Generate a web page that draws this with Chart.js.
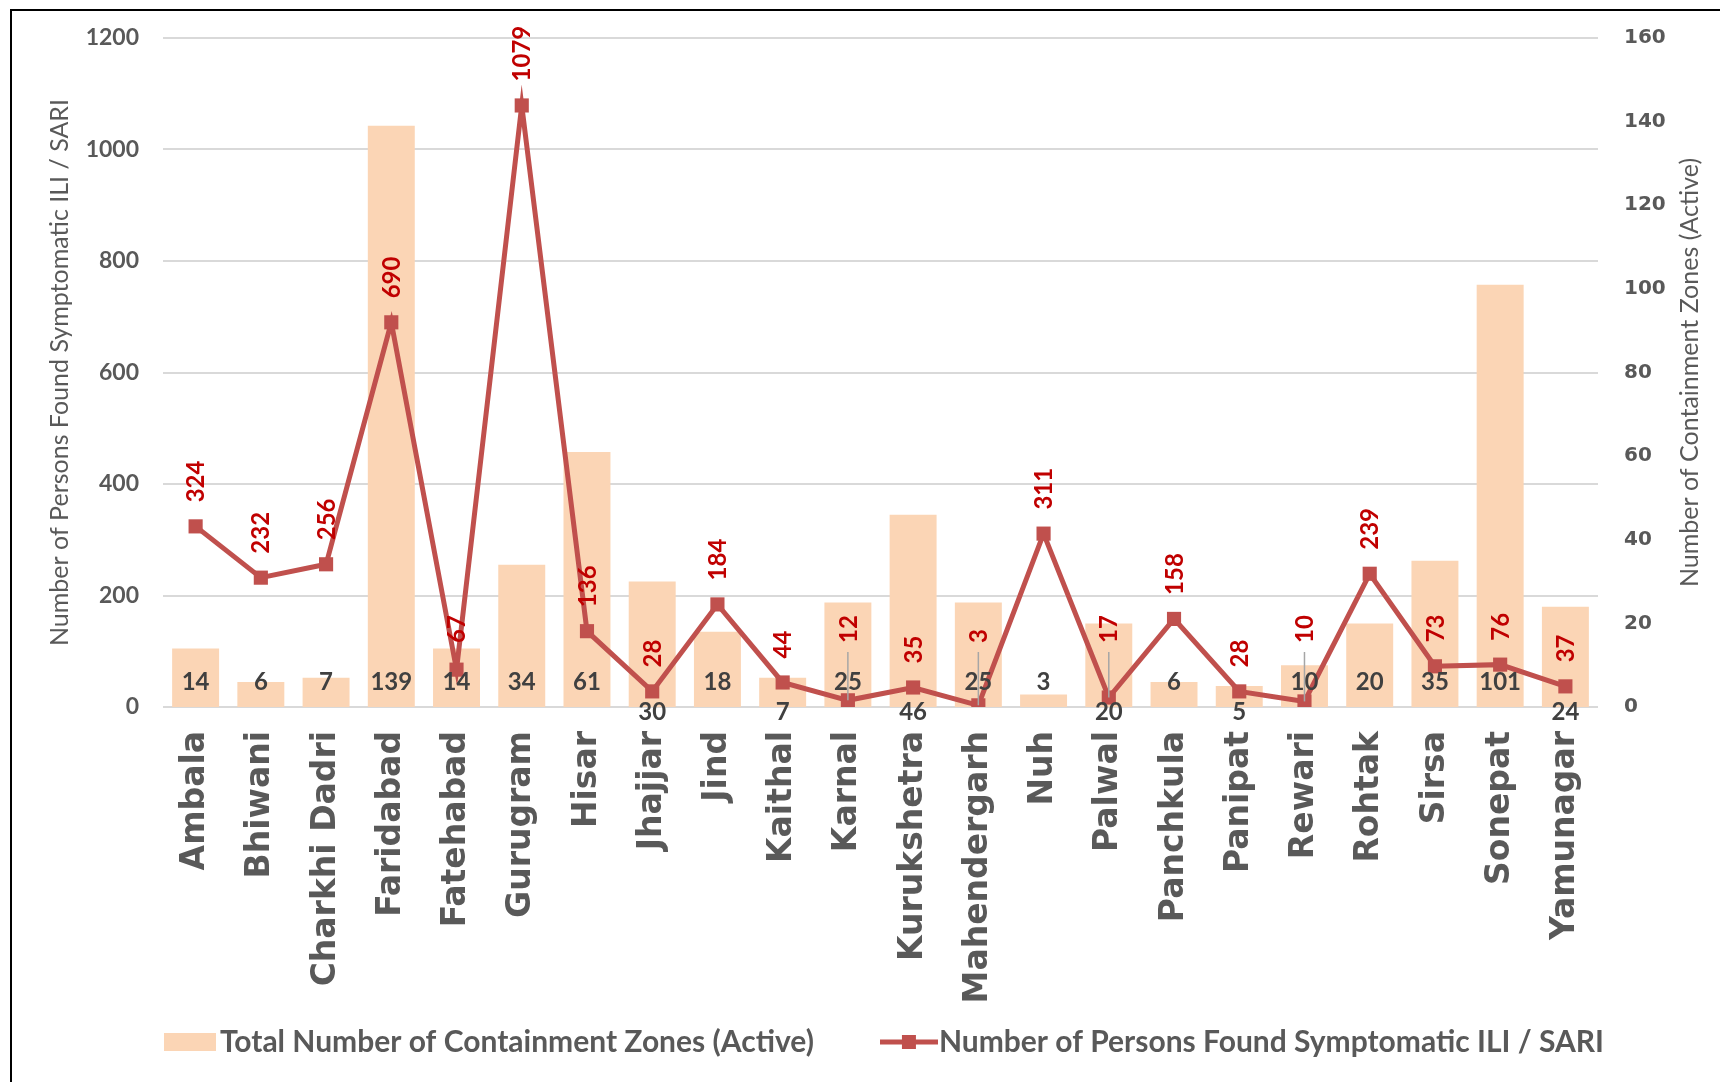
<!DOCTYPE html>
<html>
<head>
<meta charset="utf-8">
<title>Haryana districts: containment zones and ILI / SARI cases</title>
<script src="https://cdn.jsdelivr.net/npm/chart.js@4.4.1/dist/chart.umd.min.js"></script>
<style>
  html, body { margin: 0; padding: 0; background: #fff; overflow: hidden; }
  #wrap { position: relative; width: 1720px; height: 1082px; }
  #frame { position: absolute; left: 10px; top: 9px; width: 1730px; height: 1090px;
           border-left: 2px solid #000; border-top: 2px solid #000; pointer-events: none; }
  canvas { display: block; }
</style>
</head>
<body>
<div id="wrap">
  <canvas id="chart" width="1720" height="1082"></canvas>
  <div id="frame"></div>
</div>
<script>
// District-wise figures
const districts = ['Ambala', 'Bhiwani', 'Charkhi Dadri', 'Faridabad', 'Fatehabad', 'Gurugram', 'Hisar',
  'Jhajjar', 'Jind', 'Kaithal', 'Karnal', 'Kurukshetra', 'Mahendergarh', 'Nuh', 'Palwal', 'Panchkula',
  'Panipat', 'Rewari', 'Rohtak', 'Sirsa', 'Sonepat', 'Yamunagar'];
const containmentZones = [14, 6, 7, 139, 14, 34, 61, 30, 18, 7, 25, 46, 25, 3, 20, 6, 5, 10, 20, 35, 101, 24];
const symptomaticPersons = [324, 232, 256, 690, 67, 1079, 136, 28, 184, 44, 12, 35, 3, 311, 17, 158, 28, 10, 239, 73, 76, 37];

const zonesLabel = 'Total Number of Containment Zones (Active)';
const personsLabel = 'Number of Persons Found Symptomatic ILI / SARI';
const zonesAxisTitle = 'Number of Containment Zones (Active)';

const BAR_COLOR = '#FBD5B5';
const LINE_COLOR = '#C0504D';
const TEXT_GREY = '#595959';

function swatch(w, h, paint) {
  const c = document.createElement('canvas');
  c.width = w; c.height = h;
  paint(c.getContext('2d'), w, h);
  return c;
}
const barSwatch = swatch(52, 18, (g, w, h) => { g.fillStyle = BAR_COLOR; g.fillRect(0, 0, w, h); });
const lineSwatch = swatch(58, 16, (g, w, h) => {
  g.strokeStyle = LINE_COLOR; g.lineWidth = 5;
  g.beginPath(); g.moveTo(0, h / 2); g.lineTo(w, h / 2); g.stroke();
  g.fillStyle = LINE_COLOR; g.fillRect(w / 2 - 7, h / 2 - 7, 14, 14);
});

// Value labels: zone counts near the bar base, person counts rotated above the markers
const valueLabels = {
  id: 'valueLabels',
  afterLayout(chart) {
    // let the long rotated district names run past the axis box instead of being clipped
    chart.scales.x.bottom = chart.height;
  },
  afterDatasetsDraw(chart) {
    const ctx = chart.ctx;
    const barMeta = chart.getDatasetMeta(0);
    const lineMeta = chart.getDatasetMeta(1);
    const base = chart.scales.yZones.getPixelForValue(0);
    const barFont = 24, lineFont = 24;
    const barCap = barFont * 0.72, lineCap = lineFont * 0.72;
    const insideCenter = base - 26;
    const belowCenter = base + 4;
    const textTop = insideCenter - barCap / 2;
    const textBottom = insideCenter + barCap / 2;
    ctx.save();
    districts.forEach((d, i) => {
      const bar = barMeta.data[i];
      const pt = lineMeta.data[i];
      const py = pt.y;
      const below = py > textTop - 2 && py < textBottom + 10;
      const cy = below ? belowCenter : insideCenter;
      ctx.font = `bold ${barFont}px Lato`;
      ctx.fillStyle = '#404040';
      ctx.textAlign = 'center';
      ctx.textBaseline = 'alphabetic';
      ctx.fillText(String(containmentZones[i]), bar.x, cy + barCap / 2);

      const lifted = py > textTop - 5 && (!below || py > textBottom + 5);
      let start = py - 24;
      if (lifted) start = Math.min(start, base - 64);
      if (lifted && py - start > 30) {
        ctx.strokeStyle = '#A6A6A6';
        ctx.lineWidth = 1.5;
        ctx.beginPath();
        ctx.moveTo(pt.x, start + 9);
        ctx.lineTo(pt.x, py);
        ctx.stroke();
      }
      ctx.save();
      ctx.translate(pt.x + lineCap / 2, start);
      ctx.rotate(-Math.PI / 2);
      ctx.font = `bold ${lineFont}px Lato`;
      ctx.fillStyle = '#C00000';
      ctx.textAlign = 'left';
      ctx.textBaseline = 'alphabetic';
      ctx.fillText(String(symptomaticPersons[i]), 0, 0);
      ctx.restore();
    });
    ctx.restore();
  },
  afterDraw(chart) {
    // right-hand axis title, reading bottom to top
    const ctx = chart.ctx;
    const area = chart.chartArea;
    ctx.save();
    ctx.translate(1690, (area.top + area.bottom) / 2);
    ctx.rotate(-Math.PI / 2);
    ctx.font = '25px Lato';
    ctx.fillStyle = TEXT_GREY;
    ctx.textAlign = 'center';
    ctx.textBaseline = 'middle';
    ctx.fillText(zonesAxisTitle, 0, 0);
    ctx.restore();
  }
};

const whiteBackground = {
  id: 'whiteBackground',
  beforeDraw(chart) {
    const ctx = chart.ctx;
    ctx.save();
    ctx.fillStyle = '#fff';
    ctx.fillRect(0, 0, chart.width, chart.height);
    ctx.restore();
  }
};

new Chart(document.getElementById('chart'), {
  type: 'bar',
  data: {
    labels: districts,
    datasets: [
      {
        type: 'bar',
        label: zonesLabel,
        data: containmentZones,
        yAxisID: 'yZones',
        backgroundColor: BAR_COLOR,
        barPercentage: 0.72,
        categoryPercentage: 1,
        order: 1
      },
      {
        type: 'line',
        label: personsLabel,
        data: symptomaticPersons,
        yAxisID: 'yPersons',
        borderColor: LINE_COLOR,
        borderWidth: 5,
        pointStyle: 'rect',
        pointRadius: 10,
        pointBackgroundColor: LINE_COLOR,
        pointBorderWidth: 0,
        tension: 0,
        order: 0
      }
    ]
  },
  options: {
    responsive: false,
    devicePixelRatio: 1,
    animation: false,
    layout: { padding: { top: 38, left: 41.5, right: 36, bottom: 15 } },
    plugins: {
      tooltip: { enabled: false },
      legend: {
        position: 'bottom',
        align: 'end',
        labels: {
          usePointStyle: true,
          pointStyleWidth: 30,
          padding: 80,
          color: TEXT_GREY,
          font: { family: 'Lato', weight: 'bold', size: 30 },
          generateLabels: () => [
            { text: zonesLabel, pointStyle: barSwatch, fillStyle: BAR_COLOR, strokeStyle: BAR_COLOR, lineWidth: 0, hidden: false, datasetIndex: 0, fontColor: TEXT_GREY },
            { text: personsLabel, pointStyle: lineSwatch, fillStyle: LINE_COLOR, strokeStyle: LINE_COLOR, lineWidth: 0, hidden: false, datasetIndex: 1, fontColor: TEXT_GREY }
          ]
        }
      }
    },
    scales: {
      x: {
        grid: { display: false },
        border: { display: false },
        ticks: {
          minRotation: 90, maxRotation: 90, autoSkip: false, padding: 16,
          color: TEXT_GREY,
          font: { family: 'DejaVu Sans', weight: 'bold', size: 33 }
        },
        afterFit(scale) { scale.height = 240; }
      },
      yPersons: {
        position: 'left',
        min: 0, max: 1200,
        ticks: {
          stepSize: 200, padding: 24, color: TEXT_GREY,
          font: { family: 'Lato', weight: 'bold', size: 23 },
          callback: (v) => String(v)
        },
        grid: { color: '#D9D9D9', lineWidth: 2, drawTicks: false },
        border: { display: false },
        title: {
          display: true, text: personsLabel, color: TEXT_GREY,
          font: { family: 'Lato', size: 25 }, padding: { top: 3.5, bottom: 0 }
        },
        afterFit(scale) { scale.width = 121.5; }
      },
      yZones: {
        position: 'right',
        min: 0, max: 160,
        ticks: { stepSize: 20, padding: 26, color: TEXT_GREY, font: { family: 'DejaVu Sans', weight: 'bold', size: 20 } },
        grid: { display: false, drawTicks: false },
        border: { display: false },
        afterFit(scale) { scale.width = 86; }
      }
    }
  },
  plugins: [whiteBackground, valueLabels]
});
</script>
</body>
</html>
